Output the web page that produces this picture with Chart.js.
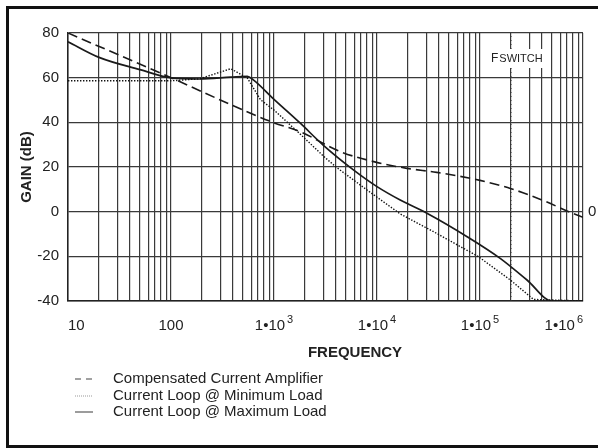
<!DOCTYPE html>
<html>
<head>
<meta charset="utf-8">
<script src="https://cdn.jsdelivr.net/npm/chart.js@4"></script>
<style>
html, body { margin: 0; padding: 0; background: #fff; }
</style>
</head>
<body>
<canvas id="myChart" width="598" height="448"></canvas>
<script>
const FONT = '"Liberation Sans", Arial, sans-serif';

// Compensated Current Amplifier (dashed)
const ampFreq = [10, 100, 500, 1000, 1800, 4400, 9300, 19500, 38000, 100000, 200000, 400000, 800000, 1000000];
const ampGain = [80, 60, 45.5, 39.8, 35.8, 26.9, 22.4, 19.4, 17.6, 14.0, 10.3, 5.2, -0.8, -2.5];

// Current Loop @ Minimum Load (dotted)
const minFreq = [10, 100, 190, 380, 550, 740, 1000, 1800, 3000, 4000, 8000, 16800, 35500, 97000, 197000, 331000, 1000000];
const minGain = [58.6, 58.6, 59.5, 64.0, 59.9, 50.1, 45.5, 34.7, 25.0, 20.0, 9.7, -1.0, -9.0, -20.2, -30.6, -39.3, -40];

// Current Loop @ Maximum Load (solid)
const maxFreq = [10, 20, 50, 100, 190, 380, 550, 630, 1000, 1800, 3000, 5900, 10000, 16800, 30500, 75000, 157000, 286000, 500000, 1000000];
const maxGain = [76.1, 69.1, 63.6, 59.9, 59.4, 60.2, 60.6, 59.0, 50.3, 39.6, 29.8, 18.7, 11.2, 5.2, -0.7, -11.2, -20.9, -30.6, -40, -40];

const fswitch = 200000;

const xTickValues = [10, 100, 1000, 10000, 100000, 1000000];
const xTickBase = ['10', '100', '1\u202210', '1\u202210', '1\u202210', '1\u202210'];
const xTickExp = ['', '', '3', '4', '5', '6'];
const yMin = -40, yMax = 80, yStep = 20;

// grid lines at 1..9 x every decade
const gridVals = [];
for (let d = 10; d < 1000000; d *= 10) {
    for (let m = 1; m < 10; m++) gridVals.push(m * d);
}
gridVals.push(1000000);

const pts = (f, g) => f.map((v, i) => ({x: v, y: g[i]}));

const decorations = {
    id: 'decorations',
    afterDraw(chart) {
        const {ctx, chartArea, scales} = chart;
        const xs = scales.x;
        ctx.save();
        ctx.fillStyle = '#222';

        // x tick labels with exponents
        ctx.textBaseline = 'alphabetic';
        ctx.textAlign = 'left';
        xTickValues.forEach((v, i) => {
            ctx.font = '15px ' + FONT;
            const bw = ctx.measureText(xTickBase[i]).width;
            ctx.font = '11px ' + FONT;
            const ew = xTickExp[i] ? ctx.measureText(xTickExp[i]).width + 2 : 0;
            const w = bw + ew;
            let left = xs.getPixelForValue(v) - w / 2;
            left = Math.max(chartArea.left, Math.min(left, chartArea.right - w));
            ctx.font = '15px ' + FONT;
            ctx.fillText(xTickBase[i], left, chartArea.bottom + 29);
            if (xTickExp[i]) {
                ctx.font = '11px ' + FONT;
                ctx.fillText(xTickExp[i], left + bw + 2, chartArea.bottom + 22);
            }
        });

        // x title
        ctx.font = 'bold 15px ' + FONT;
        ctx.textAlign = 'center';
        ctx.textBaseline = 'middle';
        ctx.fillText('FREQUENCY', 355, 353);

        // Fswitch label
        const fx = xs.getPixelForValue(fswitch);
        ctx.fillStyle = '#fff';
        ctx.fillRect(fx - 22, 49, 55, 19);
        ctx.fillStyle = '#222';
        ctx.textAlign = 'left';
        ctx.textBaseline = 'alphabetic';
        ctx.font = '12px ' + FONT;
        ctx.fillText('F', fx - 20, 62);
        const fw = ctx.measureText('F').width;
        ctx.font = '11px ' + FONT;
        ctx.fillText('SWITCH', fx - 20 + fw + 1, 62);

        // legend
        const rows = [379, 396, 412];
        let r = 0;
        chart.data.datasets.forEach(ds => {
            if (ds.noLegend) return;
            const y = rows[r++];
            ctx.strokeStyle = ds.legendColor;
            ctx.lineWidth = ds.legendWidth;
            ctx.setLineDash(ds.legendDash);
            ctx.beginPath();
            ctx.moveTo(75, y);
            ctx.lineTo(93, y);
            ctx.stroke();
            ctx.setLineDash([]);
            ctx.font = '15px ' + FONT;
            ctx.fillStyle = '#222';
            ctx.textBaseline = 'middle';
            ctx.fillText(ds.label, 113, y);
        });

        // frame around the figure
        ctx.strokeStyle = '#111';
        ctx.lineWidth = 3;
        ctx.strokeRect(7.5, 7.5, 600, 439);
        ctx.restore();
    }
};

const ctx = document.getElementById('myChart').getContext('2d');

const myChart = new Chart(ctx, {
    type: 'line',
    data: {
        datasets: [{
            label: 'Compensated Current Amplifier',
            data: pts(ampFreq, ampGain),
            borderColor: '#1a1a1a',
            borderWidth: 1.6,
            borderDash: [10, 5],
            pointRadius: 0,
            cubicInterpolationMode: 'monotone',
            legendColor: '#444', legendWidth: 1.2, legendDash: [6, 5]
        }, {
            label: 'Current Loop @ Minimum Load',
            data: pts(minFreq, minGain),
            borderColor: '#111',
            borderWidth: 1.4,
            borderDash: [1.4, 1.6],
            pointRadius: 0,
            tension: 0,
            legendColor: '#999', legendWidth: 1, legendDash: [1, 1]
        }, {
            label: 'Current Loop @ Maximum Load',
            data: pts(maxFreq, maxGain),
            borderColor: '#1a1a1a',
            borderWidth: 1.7,
            pointRadius: 0,
            cubicInterpolationMode: 'monotone',
            legendColor: '#666', legendWidth: 1.3, legendDash: []
        }, {
            label: 'Fswitch',
            data: [{x: fswitch, y: yMin}, {x: fswitch, y: yMax}],
            borderColor: '#333',
            borderWidth: 1,
            borderDash: [1, 3],
            pointRadius: 0,
            noLegend: true
        }]
    },
    options: {
        responsive: false,
        animation: false,
        layout: {padding: {left: 10, right: 0, top: 33, bottom: 87}},
        plugins: {legend: {display: false}, tooltip: {enabled: false}},
        scales: {
            x: {
                type: 'logarithmic',
                min: 10,
                max: 1000000,
                afterBuildTicks: s => { s.ticks = gridVals.map(v => ({value: v})); },
                afterFit: s => { s.height = 60; },
                ticks: {display: false},
                grid: {color: '#3a3a3a', lineWidth: 1.2, drawTicks: false},
                border: {color: '#222', width: 1.5}
            },
            y: {
                min: yMin,
                max: yMax,
                afterFit: s => { s.width = 58; },
                ticks: {stepSize: yStep, padding: 9, color: '#222', font: {family: FONT, size: 15}},
                grid: {color: '#3a3a3a', lineWidth: 1.2, drawTicks: false},
                border: {color: '#222', width: 1.5},
                title: {display: true, text: 'GAIN (dB)', color: '#222', padding: {top: 8, bottom: 0},
                        font: {family: FONT, size: 15, weight: 'bold'}}
            },
            y2: {
                position: 'right',
                min: yMin,
                max: yMax,
                afterBuildTicks: s => { s.ticks = [{value: 0}]; },
                afterFit: s => { s.width = 15; },
                ticks: {padding: 5, color: '#222', font: {family: FONT, size: 15}},
                grid: {display: false, drawTicks: false},
                border: {display: false}
            }
        }
    },
    plugins: [decorations]
});
</script>
</body>
</html>
